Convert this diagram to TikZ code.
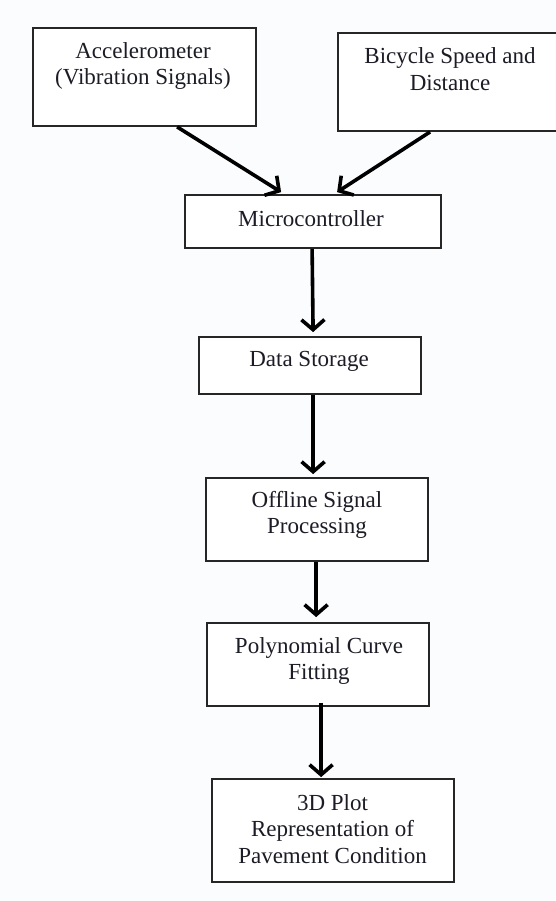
\documentclass[tikz,border=0pt]{standalone}
\usepackage{fontspec}
\setmainfont{Liberation Serif}
\usetikzlibrary{arrows.meta}
\definecolor{bgc}{RGB}{251,252,254}
\definecolor{txc}{RGB}{28,28,38}
\begin{document}
\begin{tikzpicture}[x=1pt,y=-1pt,
  boxst/.style={draw=black!85, line width=1.8pt, fill=white, inner sep=0pt, rectangle},
  txtst/.style={text=txc, align=center, inner sep=0pt, font=\fontsize{23}{26.5}\selectfont},
  arr/.style={line width=3.6pt, -{Straight Barb[length=10pt,width=23pt]}}]
\useasboundingbox (0,0) rectangle (555,901);
\fill[bgc] (0,0) rectangle (555,901);
% boxes
\node[boxst, minimum width=223pt, minimum height=98pt] (acc) at (144.5,77) {};
\node[boxst, minimum width=219pt, minimum height=98pt] (bike) at (447.5,82) {};
\node[boxst, minimum width=256pt, minimum height=53pt] (micro) at (313,221.5) {};
\node[boxst, minimum width=222pt, minimum height=57pt] (store) at (310,365.5) {};
\node[boxst, minimum width=222pt, minimum height=83pt] (offl) at (317,519.5) {};
\node[boxst, minimum width=222pt, minimum height=83pt] (poly) at (318,664.5) {};
\node[boxst, minimum width=242pt, minimum height=103pt] (plot) at (333,830.5) {};
% texts
\node[txtst] (acct) at (143,66) {Accelerometer\\(Vibration Signals)};
\node[txtst] (biket) at (450,69) {Bicycle Speed and\\Distance};
\node[txtst] (microt) at (311,219) {Microcontroller};
\node[txtst] (storet) at (309,361) {Data Storage};
\node[txtst] (offlt) at (317,515) {Offline Signal\\Processing};
\node[txtst] (polyt) at (319,661) {Polynomial Curve\\Fitting};
\node[txtst] (plott) at (332.5,829) {3D Plot\\Representation of\\Pavement Condition};
% arrows
\draw[arr] ([xshift=145pt]acc.south west) -- ([xshift=97pt,yshift=2pt]micro.north west);
\draw[arr] ([xshift=93pt]bike.south west) -- ([xshift=153pt,yshift=2pt]micro.north west);
\draw[arr] ([xshift=128pt]micro.south west) -- ([xshift=115pt,yshift=4pt]store.north west);
\draw[arr] ([xshift=115pt]store.south west) -- ([xshift=108pt,yshift=3pt]offl.north west);
\draw[arr] ([xshift=111pt]offl.south west) -- ([xshift=110pt,yshift=5pt]poly.north west);
\draw[arr] ([xshift=115pt,yshift=4pt]poly.south west) -- ([xshift=110pt,yshift=1pt]plot.north west);
\end{tikzpicture}
\end{document}
